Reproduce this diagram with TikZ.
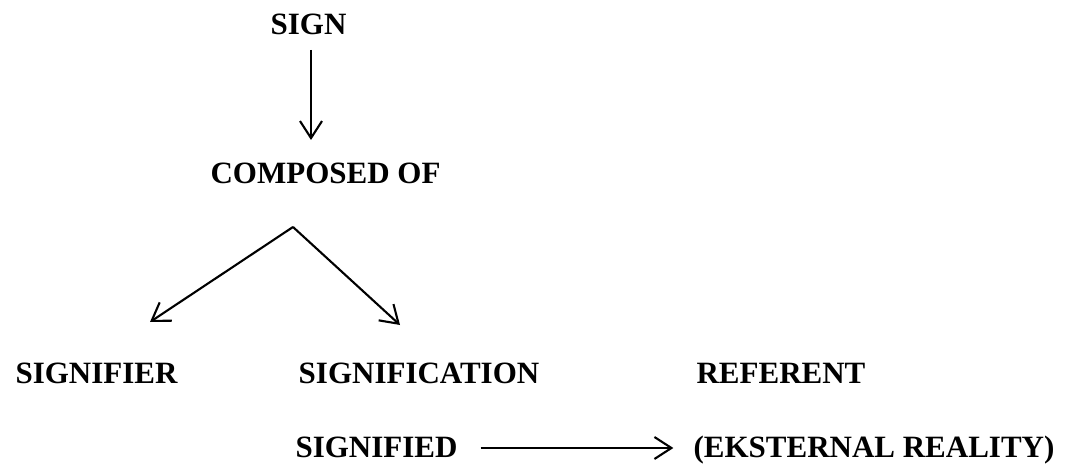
\documentclass[tikz,border=0pt]{standalone}
\usepackage{fontspec}
\setmainfont{Liberation Serif}
\usetikzlibrary{arrows.meta}
\begin{document}
\begin{tikzpicture}[x=1pt,y=-1pt,
  lbl/.style={inner sep=0pt, anchor=base, font=\fontsize{31}{37}\selectfont\bfseries},
  arr/.style={line width=2.1pt, -{Straight Barb[length=17pt,width=22pt,line width=2.1pt]}}]
\useasboundingbox[fill=white] (0,0) rectangle (1067,465);
\node[lbl] (sign) at (308.5,35) {SIGN};
\node[lbl] (comp) at (325.5,183) {COMPOSED OF};
\node[lbl] (sigr) at (96.5,383) {SIGNIFIER};
\node[lbl] (sigc) at (419,383) {SIGNIFICATION};
\node[lbl] (ref) at (781,383) {REFERENT};
\node[lbl] (sigd) at (376.5,457) {SIGNIFIED};
\node[lbl] (ext) at (874,457) {(EKSTERNAL REALITY)};
\coordinate (apex) at ([xshift=-32.5pt,yshift=-44pt]comp.base);
\coordinate (ltip) at ([xshift=53.5pt,yshift=61pt]sigr.base);
\coordinate (rtip) at ([xshift=-19pt,yshift=58pt]sigc.base);
\draw[arr] ([xshift=2.5pt,yshift=-15pt]sign.base) -- ([xshift=-14.5pt,yshift=43pt]comp.base);
\draw[arr] (apex) -- (ltip);
\draw[arr] (apex) -- (rtip);
\draw[arr] ([xshift=23pt,yshift=9pt]sigd.base east) -- ([xshift=-20pt,yshift=9pt]ext.base west);
\end{tikzpicture}
\end{document}
